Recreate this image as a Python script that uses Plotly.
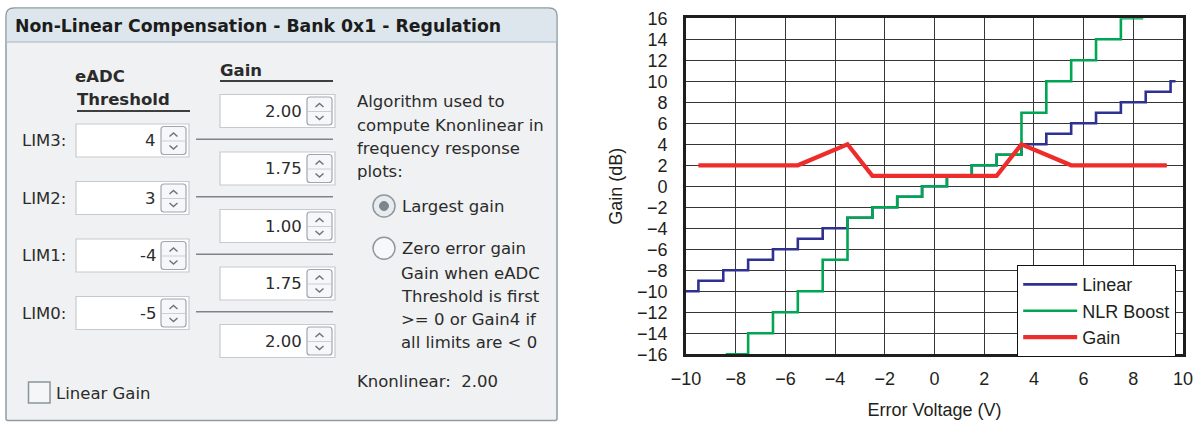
import plotly.graph_objects as go

# ---------------- chart data ----------------
linear_x = [-10, -9.5, -8.5, -7.5, -6.5, -5.5, -4.5, -3.5, -2.5, -1.5, -0.5, 0.5, 1.5, 2.5, 3.5, 4.5, 5.5, 6.5, 7.5, 8.5, 9.5, 9.7]
linear_y = [-10, -9, -8, -7, -6, -5, -4, -3, -2, -1, 0, 1, 2, 3, 4, 5, 6, 7, 8, 9, 10, 10]

boost_x = [-8.4, -7.5, -6.5, -5.5, -4.5, -3.5, -2.5, -1.5, -0.5, 0.5, 1.5, 2.5, 3.5, 4.5, 5.5, 6.5, 7.5, 8.4]
boost_y = [-16, -14, -12, -10, -7, -3, -2, -1, 0, 1, 2, 3, 7, 10, 12, 14, 16, 16]

gain_x = [-9.5, -5.5, -3.5, -2.5, 2.5, 3.5, 5.5, 9.35]
gain_y = [2, 2, 4, 1, 1, 4, 2, 2]

x_ticks = list(range(-10, 11, 2))
y_ticks = list(range(-16, 17, 2))

# ---------------- dialog data ----------------
dialog_title = "Non-Linear Compensation - Bank 0x1 - Regulation"
lim_labels = ["LIM3:", "LIM2:", "LIM1:", "LIM0:"]
lim_values = ["4", "3", "-4", "-5"]
gain_values = ["2.00", "1.75", "1.00", "1.75", "2.00"]
algo_lines = ["Algorithm used to", "compute Knonlinear in", "frequency response", "plots:"]
radio_labels = ["Largest gain", "Zero error gain"]
zero_desc = ["Gain when eADC", "Threshold is first", "&gt;= 0 or Gain4 if", "all limits are &lt; 0"]
knonlinear_value = "2.00"

W, H = 1197, 422
def px(x): return x / W
def py(y): return 1 - y / H

shapes = []
annos = []
GUI_FONT = "DejaVu Sans"
TXT = "#2b2b2b"

def rect(x0, y0, x1, y1, fill="rgba(0,0,0,0)", line="rgba(0,0,0,0)", lw=1):
    shapes.append(dict(type="rect", xref="paper", yref="paper",
                       x0=px(x0), x1=px(x1), y0=py(y1), y1=py(y0),
                       fillcolor=fill, line=dict(color=line, width=lw)))

def seg(x0, y0, x1, y1, color, lw=1):
    shapes.append(dict(type="line", xref="paper", yref="paper",
                       x0=px(x0), x1=px(x1), y0=py(y0), y1=py(y1),
                       line=dict(color=color, width=lw)))

def path(pts_cmds, fill="rgba(0,0,0,0)", line="rgba(0,0,0,0)", lw=1):
    s = ""
    for c, *coords in pts_cmds:
        s += c
        if coords:
            pairs = [f"{px(coords[i]):.6f},{py(coords[i+1]):.6f}" for i in range(0, len(coords), 2)]
            s += " ".join(pairs) + " "
    shapes.append(dict(type="path", xref="paper", yref="paper", path=s,
                       fillcolor=fill, line=dict(color=line, width=lw)))

def rrect(x0, y0, x1, y1, rt, rb, fill, line, lw=1):
    path([("M", x0 + rt, y0), ("L", x1 - rt, y0), ("Q", x1, y0, x1, y0 + rt),
          ("L", x1, y1 - rb), ("Q", x1, y1, x1 - rb, y1), ("L", x0 + rb, y1),
          ("Q", x0, y1, x0, y1 - rb), ("L", x0, y0 + rt), ("Q", x0, y0, x0 + rt, y0), ("Z",)],
         fill=fill, line=line, lw=lw)

def circle(cx, cy, r, fill, line, lw=1):
    shapes.append(dict(type="circle", xref="paper", yref="paper",
                       x0=px(cx - r), x1=px(cx + r), y0=py(cy + r), y1=py(cy - r),
                       fillcolor=fill, line=dict(color=line, width=lw)))

def txt(x, y, s, size=16.5, bold=False, anchor="left", color=TXT):
    annos.append(dict(xref="paper", yref="paper", x=px(x), y=py(y), text=(f"<b>{s}</b>" if bold else s),
                      showarrow=False, xanchor=anchor, yanchor="middle",
                      font=dict(family=GUI_FONT, size=size, color=color)))

def spinbox(x0, yc, w, value):
    h = 33
    rect(x0, yc - h / 2, x0 + w, yc + h / 2, fill="#ffffff", line="#c6cacd", lw=1.2)
    sx0, sx1 = x0 + w - 28, x0 + w - 3
    rrect(sx0, yc - 14, sx1, yc + 14, 3, 3, "#f6f7f8", "#9ea7ad", 1.2)
    seg(sx0 + 1, yc + 0.5, sx1 - 1, yc + 0.5, "#c9ced1", 1)
    cx = (sx0 + sx1) / 2
    path([("M", cx - 4, yc - 4), ("L", cx, yc - 7.5), ("L", cx + 4, yc - 4)], line="#6a7681", lw=1.5)
    path([("M", cx - 4, yc + 5), ("L", cx, yc + 8.5), ("L", cx + 4, yc + 5)], line="#6a7681", lw=1.5)
    txt(x0 + w - 31, yc, value, anchor="right")

# dialog frame
rrect(6, 8, 557, 420.5, 8, 2, "#f0f1f2", "#8f9ca5", 1.5)
path([("M", 6.8, 42), ("L", 6.8, 16), ("Q", 6.8, 8.8, 14, 8.8), ("L", 549, 8.8), ("Q", 556.2, 8.8, 556.2, 16),
      ("L", 556.2, 42), ("Z",)], fill="#dce6ec")
seg(6.8, 42, 556.2, 42, "#a3b3bc", 1.2)
txt(13, 26, dialog_title, size=17.3, bold=True, color="#1c1c1c")

# column headers
txt(73, 77, "eADC", size=16.5, bold=True)
txt(75, 99, "Threshold", size=16.5, bold=True)
seg(77, 111, 190, 111, "#3e3e3e", 2)
txt(218, 70, "Gain", size=16.5, bold=True)
seg(220, 81, 333, 81, "#3e3e3e", 2)

# threshold rows
for i, (lab, val) in enumerate(zip(lim_labels, lim_values)):
    yc = 140.5 + 57.5 * i
    txt(20, yc, lab)
    spinbox(76, yc, 113, val)
    seg(196, yc - 1.3, 333, yc - 1.3, "#7f8489", 1.6)

# gain rows
for i, val in enumerate(gain_values):
    yc = 111 + 57.5 * i
    spinbox(220, yc, 115, val)

# right column text
for i, line in enumerate(algo_lines):
    txt(355, 102 + 23 * i, line)
circle(384, 206, 11, "#e9ecee", "#8e989e", 1.5)
circle(384, 206, 4.5, "#7b868d", "#7b868d", 1)
txt(400, 206, radio_labels[0])
circle(384, 248.3, 11, "#f7f8f9", "#8e989e", 1.5)
txt(400, 248.3, radio_labels[1])
for i, line in enumerate(zero_desc):
    txt(399, 273 + 23 * i, line)
txt(355, 381, "Knonlinear:\u00a0 " + knonlinear_value)

# checkbox
rect(28.5, 382, 50, 403, fill="#f5f6f7", line="#8c959b", lw=1.5)
txt(54, 393, "Linear Gain")

# ---------------- chart ----------------
fig = go.Figure()
fig.add_trace(go.Scatter(x=linear_x, y=linear_y, mode="lines", name="Linear", line_shape="hv",
                         line=dict(color="#2e3192", width=2.6)))
fig.add_trace(go.Scatter(x=boost_x, y=boost_y, mode="lines", name="NLR Boost", line_shape="hv",
                         line=dict(color="#00a651", width=2.6)))
fig.add_trace(go.Scatter(x=gain_x, y=gain_y, mode="lines", name="Gain",
                         line=dict(color="#ee2c2c", width=4.2)))

CH_FONT = "Liberation Sans, Arial, sans-serif"
axis_common = dict(showgrid=True, gridcolor="#363636", gridwidth=1.2, zeroline=False,
                   showline=True, mirror=True, linecolor="#1e1e1e", linewidth=2.6,
                   ticks="", tickfont=dict(family=CH_FONT, size=18, color="#231f20"),
                   automargin=False)
fig.update_xaxes(domain=[px(686), px(1183)], range=[-10, 10], tickvals=x_ticks,
                 ticklabelstandoff=6,
                 title=dict(text="Error Voltage (V)", font=dict(family=CH_FONT, size=18, color="#231f20"), standoff=16),
                 **axis_common)
fig.update_yaxes(domain=[py(354.3), py(18.3)], range=[-16, 16], tickvals=y_ticks,
                 ticklabelstandoff=12,
                 title=dict(text="Gain (dB)", font=dict(family=CH_FONT, size=18, color="#231f20"), standoff=10),
                 **axis_common)

fig.update_layout(
    width=W, height=H, margin=dict(l=0, r=0, t=0, b=0),
    paper_bgcolor="white", plot_bgcolor="white",
    shapes=shapes, annotations=annos,
    legend=dict(x=px(1176), y=py(265), xanchor="right", yanchor="top",
                bgcolor="white", bordercolor="#111111", borderwidth=1.2,
                font=dict(family=CH_FONT, size=18, color="#231f20"),
                itemwidth=54, tracegroupgap=0),
)

# remove the browser's default 8px body margin so the figure sits at the page origin
fig.write_html("out.html",
               config={"displayModeBar": False},
               post_script="document.body.style.margin='0';"
                           "document.documentElement.style.overflow='hidden';"
                           "document.body.style.overflow='hidden';")
